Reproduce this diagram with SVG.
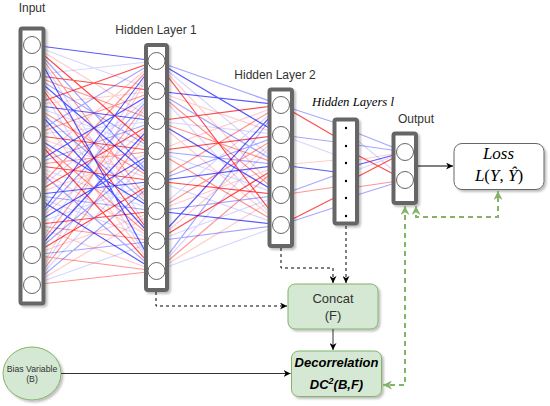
<svg xmlns="http://www.w3.org/2000/svg" width="550" height="406" viewBox="0 0 550 406">
<defs>
<style>
.A{stroke:#ff0000;stroke-opacity:.7}
.B{stroke:#0000ff;stroke-opacity:.65}
.C{stroke:#ff0000;stroke-opacity:.42}
.D{stroke:#0000ff;stroke-opacity:.35}
.E{stroke:#ff0000;stroke-opacity:.2}
.F{stroke:#0000ff;stroke-opacity:.16}
.w path{fill:none;stroke-width:1.2}
.layer{fill:#fff;stroke:#666;stroke-width:4;filter:url(#sh)}
.nd{fill:#fff;stroke:#666;stroke-width:1}
.dot{fill:#000}
.lbl{font-family:"Liberation Sans",Arial,sans-serif;fill:#333;text-anchor:middle}
.math{font-family:"Liberation Serif","Times New Roman",serif;fill:#000;text-anchor:middle}
.gbox{fill:#d5e8d4;stroke:#82b366;stroke-width:1;filter:url(#sh)}
.dash{fill:none;stroke:#000;stroke-width:1;stroke-dasharray:3 3}
.solid{fill:none;stroke:#333;stroke-width:1}
.gdash{fill:none;stroke:#82b366;stroke-width:2;stroke-dasharray:5 4}
</style>
<filter id="sh" x="-20%" y="-20%" width="150%" height="150%">
<feDropShadow dx="2" dy="2" stdDeviation="1" flood-color="#000" flood-opacity="0.25"/>
</filter>
<marker id="ab" viewBox="0 0 10 10" refX="10" refY="5" markerWidth="7" markerHeight="7" markerUnits="userSpaceOnUse" orient="auto-start-reverse"><path d="M0 0L10 5L0 10L3 5z" fill="#000"/></marker>
<marker id="ag" viewBox="0 0 10 10" refX="10" refY="5" markerWidth="9" markerHeight="9" markerUnits="userSpaceOnUse" orient="auto-start-reverse"><path d="M0 0L10 5L0 10L3 5z" fill="#82b366"/></marker>
</defs>
<rect width="550" height="406" fill="#fff"/>

<g id="weights" class="w">
<path class="E" d="M32 45L156 121M32 75L156 211M32 105L156 91M32 105L156 271M32 135L156 181M32 165L156 61M32 165L156 241M32 195L156 151M32 225L156 121M32 225L156 271M32 255L156 211M32 285L156 61M32 285L156 211"/>
<path class="F" d="M32 45L156 91M32 45L156 241M32 75L156 61M32 75L156 271M32 105L156 151M32 135L156 121M32 165L156 211M32 195L156 91M32 195L156 241M32 225L156 181M32 255L156 61M32 285L156 91M32 285L156 151M32 285L156 241"/>
<path class="C" d="M32 45L156 211M32 75L156 121M32 105L156 181M32 135L156 91M32 135L156 241M32 165L156 151M32 195L156 61M32 225L156 241M32 255L156 91M32 255L156 271M32 285L156 121M32 285L156 271"/>
<path class="D" d="M32 45L156 181M32 75L156 151M32 105L156 211M32 135L156 61M32 165L156 121M32 165L156 271M32 195L156 211M32 225L156 91M32 255L156 151M32 255L156 241M32 285L156 181"/>
<path class="A" d="M32 45L156 151M32 75L156 91M32 75L156 241M32 105L156 61M32 135L156 151M32 135L156 271M32 165L156 181M32 195L156 121M32 225L156 211M32 255L156 181"/>
<path class="B" d="M32 45L156 61M32 45L156 271M32 75L156 181M32 105L156 121M32 105L156 241M32 135L156 211M32 165L156 91M32 195L156 181M32 195L156 271M32 225L156 61M32 225L156 151M32 255L156 121"/>

<path class="E" d="M156 61L281 195M156 91L281 135M156 121L281 225M156 151L281 105M156 211L281 165M156 241L281 135M156 271L281 195"/>
<path class="F" d="M156 61L281 165M156 91L281 225M156 121L281 135M156 151L281 195M156 181L281 225M156 211L281 105M156 241L281 195M156 271L281 135M156 271L281 225"/>
<path class="C" d="M156 91L281 195M156 121L281 165M156 151L281 225M156 181L281 105M156 211L281 135M156 271L281 165"/>
<path class="D" d="M156 61L281 105M156 91L281 165M156 151L281 165M156 181L281 135M156 211L281 195M156 241L281 225M156 271L281 105"/>
<path class="A" d="M156 61L281 225M156 121L281 105M156 151L281 135M156 181L281 195M156 241L281 165"/>
<path class="B" d="M156 61L281 135M156 91L281 105M156 121L281 195M156 181L281 165M156 211L281 225M156 241L281 105"/>

<path class="E" d="M281 165L336 160"/>
<path class="F" d="M281 135L336 155"/>
<path class="D" d="M281 105L336 123M281 135L336 142M281 195L336 175M281 225L336 207"/>
<path class="B" d="M281 165L336 172"/>
<path class="A" d="M281 105L336 137M281 225L336 197"/>
<path class="C" d="M281 195L336 187"/>

<path class="F" d="M357 140L405 180M357 170L405 152"/>
<path class="E" d="M357 160L405 152"/>
<path class="D" d="M357 133L405 152M357 145L405 152M357 195L405 180"/>
<path class="B" d="M357 165L405 152"/>
<path class="A" d="M357 155L405 180M357 177L405 152"/>
<path class="C" d="M357 187L405 180"/>
</g>

<g id="input">
<text class="lbl" x="32" y="12" style="font-size:12px">Input</text>
<rect class="layer" x="20.5" y="28.5" width="23" height="275" rx="2"/>
<circle class="nd" cx="32" cy="45" r="8.5"/>
<circle class="nd" cx="32" cy="75" r="8.5"/>
<circle class="nd" cx="32" cy="105" r="8.5"/>
<circle class="nd" cx="32" cy="135" r="8.5"/>
<circle class="nd" cx="32" cy="165" r="8.5"/>
<circle class="nd" cx="32" cy="195" r="8.5"/>
<circle class="nd" cx="32" cy="225" r="8.5"/>
<circle class="nd" cx="32" cy="255" r="8.5"/>
<circle class="nd" cx="32" cy="285" r="8.5"/>
</g>

<g id="hidden1">
<text class="lbl" x="156" y="34" style="font-size:12px">Hidden Layer 1</text>
<rect class="layer" x="146" y="45" width="21" height="245" rx="2"/>
<circle class="nd" cx="156.5" cy="61" r="8.5"/>
<circle class="nd" cx="156.5" cy="91" r="8.5"/>
<circle class="nd" cx="156.5" cy="121" r="8.5"/>
<circle class="nd" cx="156.5" cy="151" r="8.5"/>
<circle class="nd" cx="156.5" cy="181" r="8.5"/>
<circle class="nd" cx="156.5" cy="211" r="8.5"/>
<circle class="nd" cx="156.5" cy="241" r="8.5"/>
<circle class="nd" cx="156.5" cy="271" r="8.5"/>
</g>

<g id="hidden2">
<text class="lbl" x="275" y="79" style="font-size:12px">Hidden Layer 2</text>
<rect class="layer" x="269.5" y="89.5" width="22.5" height="156.5" rx="2"/>
<circle class="nd" cx="281" cy="105" r="8.5"/>
<circle class="nd" cx="281" cy="135" r="8.5"/>
<circle class="nd" cx="281" cy="165" r="8.5"/>
<circle class="nd" cx="281" cy="195" r="8.5"/>
<circle class="nd" cx="281" cy="225" r="8.5"/>
</g>

<g id="hiddenl">
<text class="math" x="353" y="106" style="font-size:12px;font-style:italic" textLength="82" lengthAdjust="spacingAndGlyphs">Hidden Layers l</text>
<rect class="layer" x="334.5" y="119.5" width="22.5" height="104" rx="2"/>
<circle class="dot" cx="346" cy="128" r="1.2"/>
<circle class="dot" cx="346" cy="146" r="1.2"/>
<circle class="dot" cx="346" cy="163" r="1.2"/>
<circle class="dot" cx="346" cy="181" r="1.2"/>
<circle class="dot" cx="346" cy="198" r="1.2"/>
<circle class="dot" cx="346" cy="216" r="1.2"/>
</g>

<g id="output">
<text class="lbl" x="416" y="123" style="font-size:12px">Output</text>
<rect class="layer" x="393.5" y="133.5" width="22.5" height="69.5" rx="2"/>
<circle class="nd" cx="405" cy="152" r="8.5"/>
<circle class="nd" cx="405" cy="180" r="8.5"/>
</g>

<g id="loss">
<rect x="454" y="143.5" width="90" height="46" rx="8" fill="#fff" stroke="#666" stroke-width="1" filter="url(#sh)"/>
<text class="math" x="498.5" y="158.5" style="font-size:17px;font-style:italic">Loss</text>
<text class="math" x="499" y="181" style="font-size:17px" xml:space="preserve"><tspan style="font-style:italic">L</tspan>(<tspan style="font-style:italic">Y</tspan>, <tspan style="font-style:italic">Ŷ</tspan>)</text>
</g>

<g id="concat">
<rect class="gbox" x="288" y="284" width="90" height="45" rx="7"/>
<text class="lbl" x="333" y="302.5" style="font-size:13px">Concat</text>
<text class="lbl" x="333" y="319.5" style="font-size:13px">(F)</text>
</g>

<g id="decorrelation">
<rect class="gbox" x="291.5" y="351" width="90" height="45.5" rx="7"/>
<text class="lbl" x="336.5" y="367" style="font-size:13px;font-weight:bold;font-style:italic;fill:#000">Decorrelation</text>
<text class="lbl" x="336.5" y="388.5" style="font-size:13px;font-weight:bold;font-style:italic;fill:#000">DC<tspan style="font-size:9px" baseline-shift="super">2</tspan>(B,F)</text>
</g>

<g id="bias">
<ellipse cx="32" cy="373.5" rx="29" ry="26.5" fill="#d5e8d4" stroke="#82b366" stroke-width="1" filter="url(#sh)"/>
<text class="lbl" x="32" y="371.5" style="font-size:8.7px">Bias Variable</text>
<text class="lbl" x="32" y="382" style="font-size:8.7px">(B)</text>
</g>

<g id="connectors">
<path class="solid" d="M418 166H453" style="stroke:#000" marker-end="url(#ab)"/>
<path class="dash" d="M156 292V306H287" marker-end="url(#ab)"/>
<path class="dash" d="M281 248V268H333V283" marker-end="url(#ab)"/>
<path class="dash" d="M346 226V283" marker-end="url(#ab)"/>
<path class="solid" d="M333 329V350" marker-end="url(#ab)"/>
<path class="solid" d="M61 373.5H290.5" marker-end="url(#ab)"/>
<path class="gdash" d="M416 206V217H498V191" marker-start="url(#ag)" marker-end="url(#ag)"/>
<path class="gdash" d="M405 206V385H383" marker-start="url(#ag)" marker-end="url(#ag)"/>
</g>
</svg>
